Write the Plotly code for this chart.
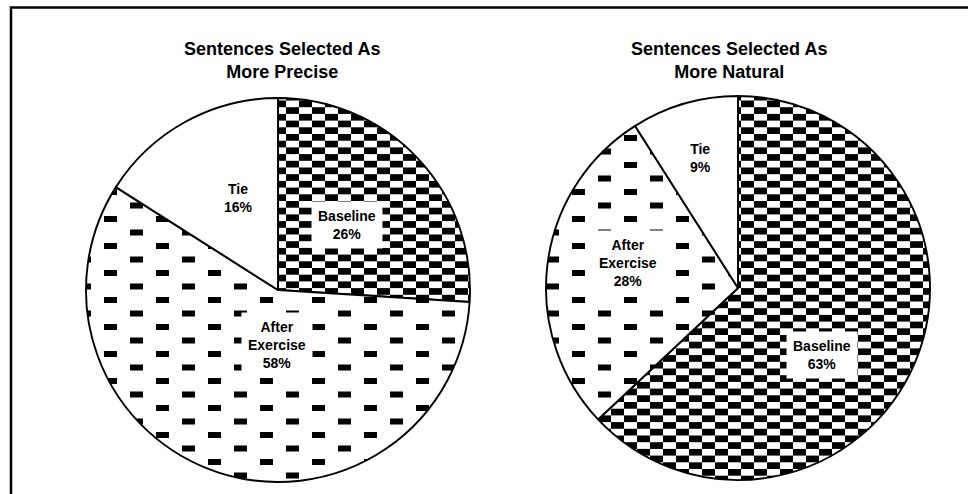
import plotly.graph_objects as go

# ---- data -------------------------------------------------------------
categories = ["Baseline", "After Exercise", "Tie"]
precise_pct = [26, 58, 16]
natural_pct = [63, 28, 9]
chart_titles = ["Sentences Selected As<br>More Precise",
                "Sentences Selected As<br>More Natural"]

# ---- layout constants (pixels) ------------------------------------------
W, H = 968, 494
FONT = "Liberation Sans, Arial, sans-serif"
PIE_GEOM = [(278, 290, 192), (738, 288, 192)]          # centre x, centre y, radius
TITLE_POS = [(282, 60), (729, 60)]
LABEL_POS = [
    {"Baseline": (347, 225), "After Exercise": (277, 345), "Tie": (238, 198)},
    {"Baseline": (822, 355), "After Exercise": (628, 263), "Tie": (700, 158)},
]

# slice fills: checkerboard, sparse dashes, plain white
PATTERN_SHAPES = ["x", ".", ""]
CHECK_CELL = (13, 6.7)           # checkerboard cell width, height
DASH_TILE = (52, 27.0)           # dash repeat width, height
DASH_SIZE = (13, 6)


def fx(x):
    return x / W


def fy(y):
    return 1 - y / H


fig = go.Figure()
annotations = []

for values, title, (cx, cy, r), tpos, lpos in zip(
        [precise_pct, natural_pct], chart_titles, PIE_GEOM, TITLE_POS, LABEL_POS):
    fig.add_trace(go.Pie(
        labels=categories,
        values=values,
        sort=False,
        direction="clockwise",
        rotation=0,
        textinfo="none",
        hoverinfo="label+percent",
        showlegend=False,
        domain=dict(x=[fx(cx - r), fx(cx + r)], y=[fy(cy + r), fy(cy - r)]),
        marker=dict(
            colors=["white"] * len(categories),
            line=dict(color="black", width=1.9),
            pattern=dict(shape=PATTERN_SHAPES, fgcolor="black", bgcolor="white",
                         size=10, solidity=0.3),
        ),
    ))
    annotations.append(dict(
        text=f"<b>{title}</b>", x=fx(tpos[0]), y=fy(tpos[1]),
        xref="paper", yref="paper", xanchor="center", yanchor="middle",
        showarrow=False, font=dict(family=FONT, size=18, color="black"),
    ))
    for cat, val in zip(categories, values):
        px, py = lpos[cat]
        annotations.append(dict(
            text="<b>" + cat.replace(" ", "<br>") + f"<br>{val}%</b>",
            x=fx(px), y=fy(py), xref="paper", yref="paper",
            xanchor="center", yanchor="middle", showarrow=False,
            bgcolor="white", borderpad=6,
            font=dict(family=FONT, size=14, color="black"),
        ))

fig.update_layout(
    width=W, height=H,
    margin=dict(l=0, r=0, t=0, b=0),
    paper_bgcolor="white",
    plot_bgcolor="white",
    annotations=annotations,
    shapes=[dict(
        type="rect", xref="paper", yref="paper",
        x0=fx(11), x1=1.02, y0=-0.02, y1=fy(7.5),
        line=dict(color="black", width=2.5), fillcolor="rgba(0,0,0,0)",
    )],
)

# Swap the stock pattern tiles for the checkerboard / dash tiles.
post_js = """
var gd = document.getElementById('{plot_id}');
var NS = 'http://www.w3.org/2000/svg';
function tile(p, w, h, cells) {
  while (p.firstChild) p.removeChild(p.firstChild);
  p.setAttribute('width', w); p.setAttribute('height', h);
  var bg = document.createElementNS(NS, 'rect');
  bg.setAttribute('width', w); bg.setAttribute('height', h); bg.setAttribute('fill', '#ffffff');
  p.appendChild(bg);
  cells.forEach(function(c) {
    var rc = document.createElementNS(NS, 'rect');
    rc.setAttribute('x', c[0]); rc.setAttribute('y', c[1]);
    rc.setAttribute('width', c[2]); rc.setAttribute('height', c[3]);
    rc.setAttribute('fill', '#000000');
    p.appendChild(rc);
  });
  p.setAttribute('data-custom', '1');
}
function restyleTiles() {
  document.querySelectorAll('defs pattern').forEach(function(p) {
    if (p.getAttribute('data-custom')) return;
    if (p.querySelector('circle')) {
      tile(p, %(dw)s, %(dh)s, [[0, 0, %(sw)s, %(sh)s], [%(dw)s / 2, %(dh)s / 2, %(sw)s, %(sh)s]]);
    } else if (p.querySelector('path')) {
      tile(p, 2 * %(cw)s, 2 * %(ch)s, [[0, 0, %(cw)s, %(ch)s], [%(cw)s, %(ch)s, %(cw)s, %(ch)s]]);
    }
  });
}
restyleTiles();
if (gd && gd.on) gd.on('plotly_afterplot', restyleTiles);
""" % dict(dw=DASH_TILE[0], dh=DASH_TILE[1], sw=DASH_SIZE[0], sh=DASH_SIZE[1],
           cw=CHECK_CELL[0], ch=CHECK_CELL[1])

fig.write_html("out.html", post_script=post_js,
               config=dict(displayModeBar=False))
